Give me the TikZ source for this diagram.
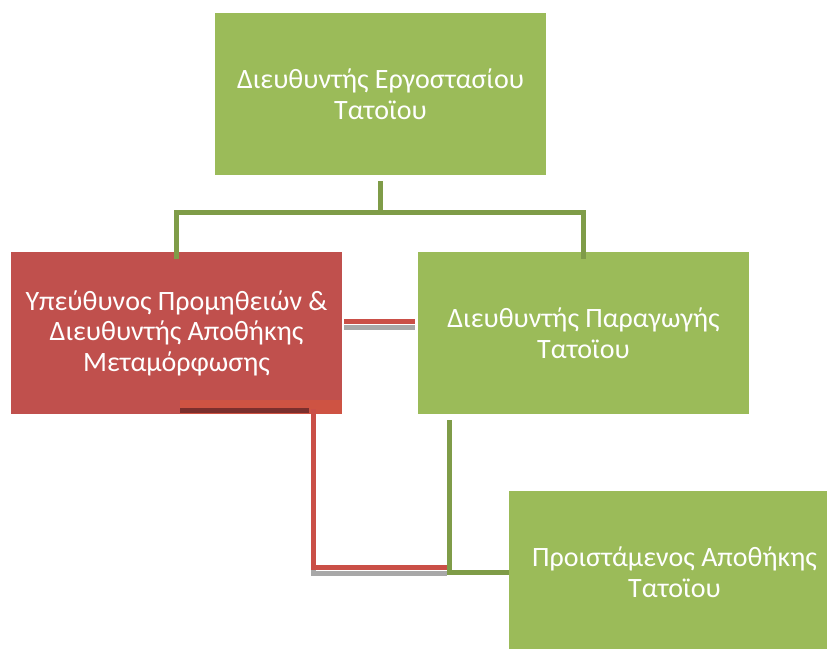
\documentclass[tikz,border=0pt]{standalone}
\usepackage{fontspec}
\setmainfont{Carlito}
\definecolor{boxgreen}{HTML}{9BBB59}
\definecolor{linegreen}{HTML}{7F9C48}
\definecolor{boxred}{HTML}{C0504D}
\definecolor{linered}{HTML}{CA4F47}
\definecolor{stripred}{HTML}{CE5343}
\definecolor{darkred}{HTML}{7B2F2D}
\definecolor{shadowgrey}{HTML}{A8A8A8}
\tikzset{
	post/.style={rectangle, inner sep=0pt, minimum width=331pt, minimum height=162pt,
		text=white, align=center, font=\fontsize{28}{30.5}\selectfont},
	gline/.style={draw=linegreen, line width=5pt},
	rline/.style={draw=linered, line width=5pt,
		preaction={draw=shadowgrey, line width=5pt, transform canvas={yshift=-6pt}}}
}

\begin{document}
\begin{tikzpicture}[x=1pt,y=-1pt]
		\useasboundingbox (0,0) rectangle (827,648);
		\clip (0,0) rectangle (827,648);
		% boxes
		\node[post, fill=boxgreen] (top) at (380.5,94) {Διευθυντής Εργοστασίου\\Τατοϊου};
		\node[post, fill=boxred] (mgr) at (176.5,333) {Υπεύθυνος Προμηθειών \&\\Διευθυντής Αποθήκης\\Μεταμόρφωσης};
		\node[post, fill=boxgreen] (prod) at (583.5,333) {Διευθυντής Παραγωγής\\Τατοϊου};
		\node[post, fill=boxgreen] (store) at (674.5,572) {Προιστάμενος Αποθήκης\\Τατοϊου};
		% strip at the foot of the red box
		\fill[stripred] (180,400) rectangle (342,414);
		\fill[darkred] (180,408) rectangle (309,413);
		% free ends
		\coordinate (split) at (380.5,212);
		\coordinate (redfoot) at (313.5,409);
		\coordinate (redturn) at (313.5,567);
		\coordinate (redend) at (447,567);
		\coordinate (greenfoot) at (449.5,420);
		% connectors
		\draw[gline] ([yshift=-6pt]top.south) -- (split) -| ([yshift=-7pt]mgr.north);
		\draw[gline] (split) -| ([yshift=-7pt]prod.north);
		\draw[rline] ([xshift=2pt,yshift=11.5pt]mgr.east) -- ([xshift=-3pt,yshift=11.5pt]prod.west);
		\draw[rline] (redfoot) -- (redturn) -- (redend);
		\draw[gline] (greenfoot) |- ([yshift=-0.5pt]store.west);
	\end{tikzpicture}
\end{document}
